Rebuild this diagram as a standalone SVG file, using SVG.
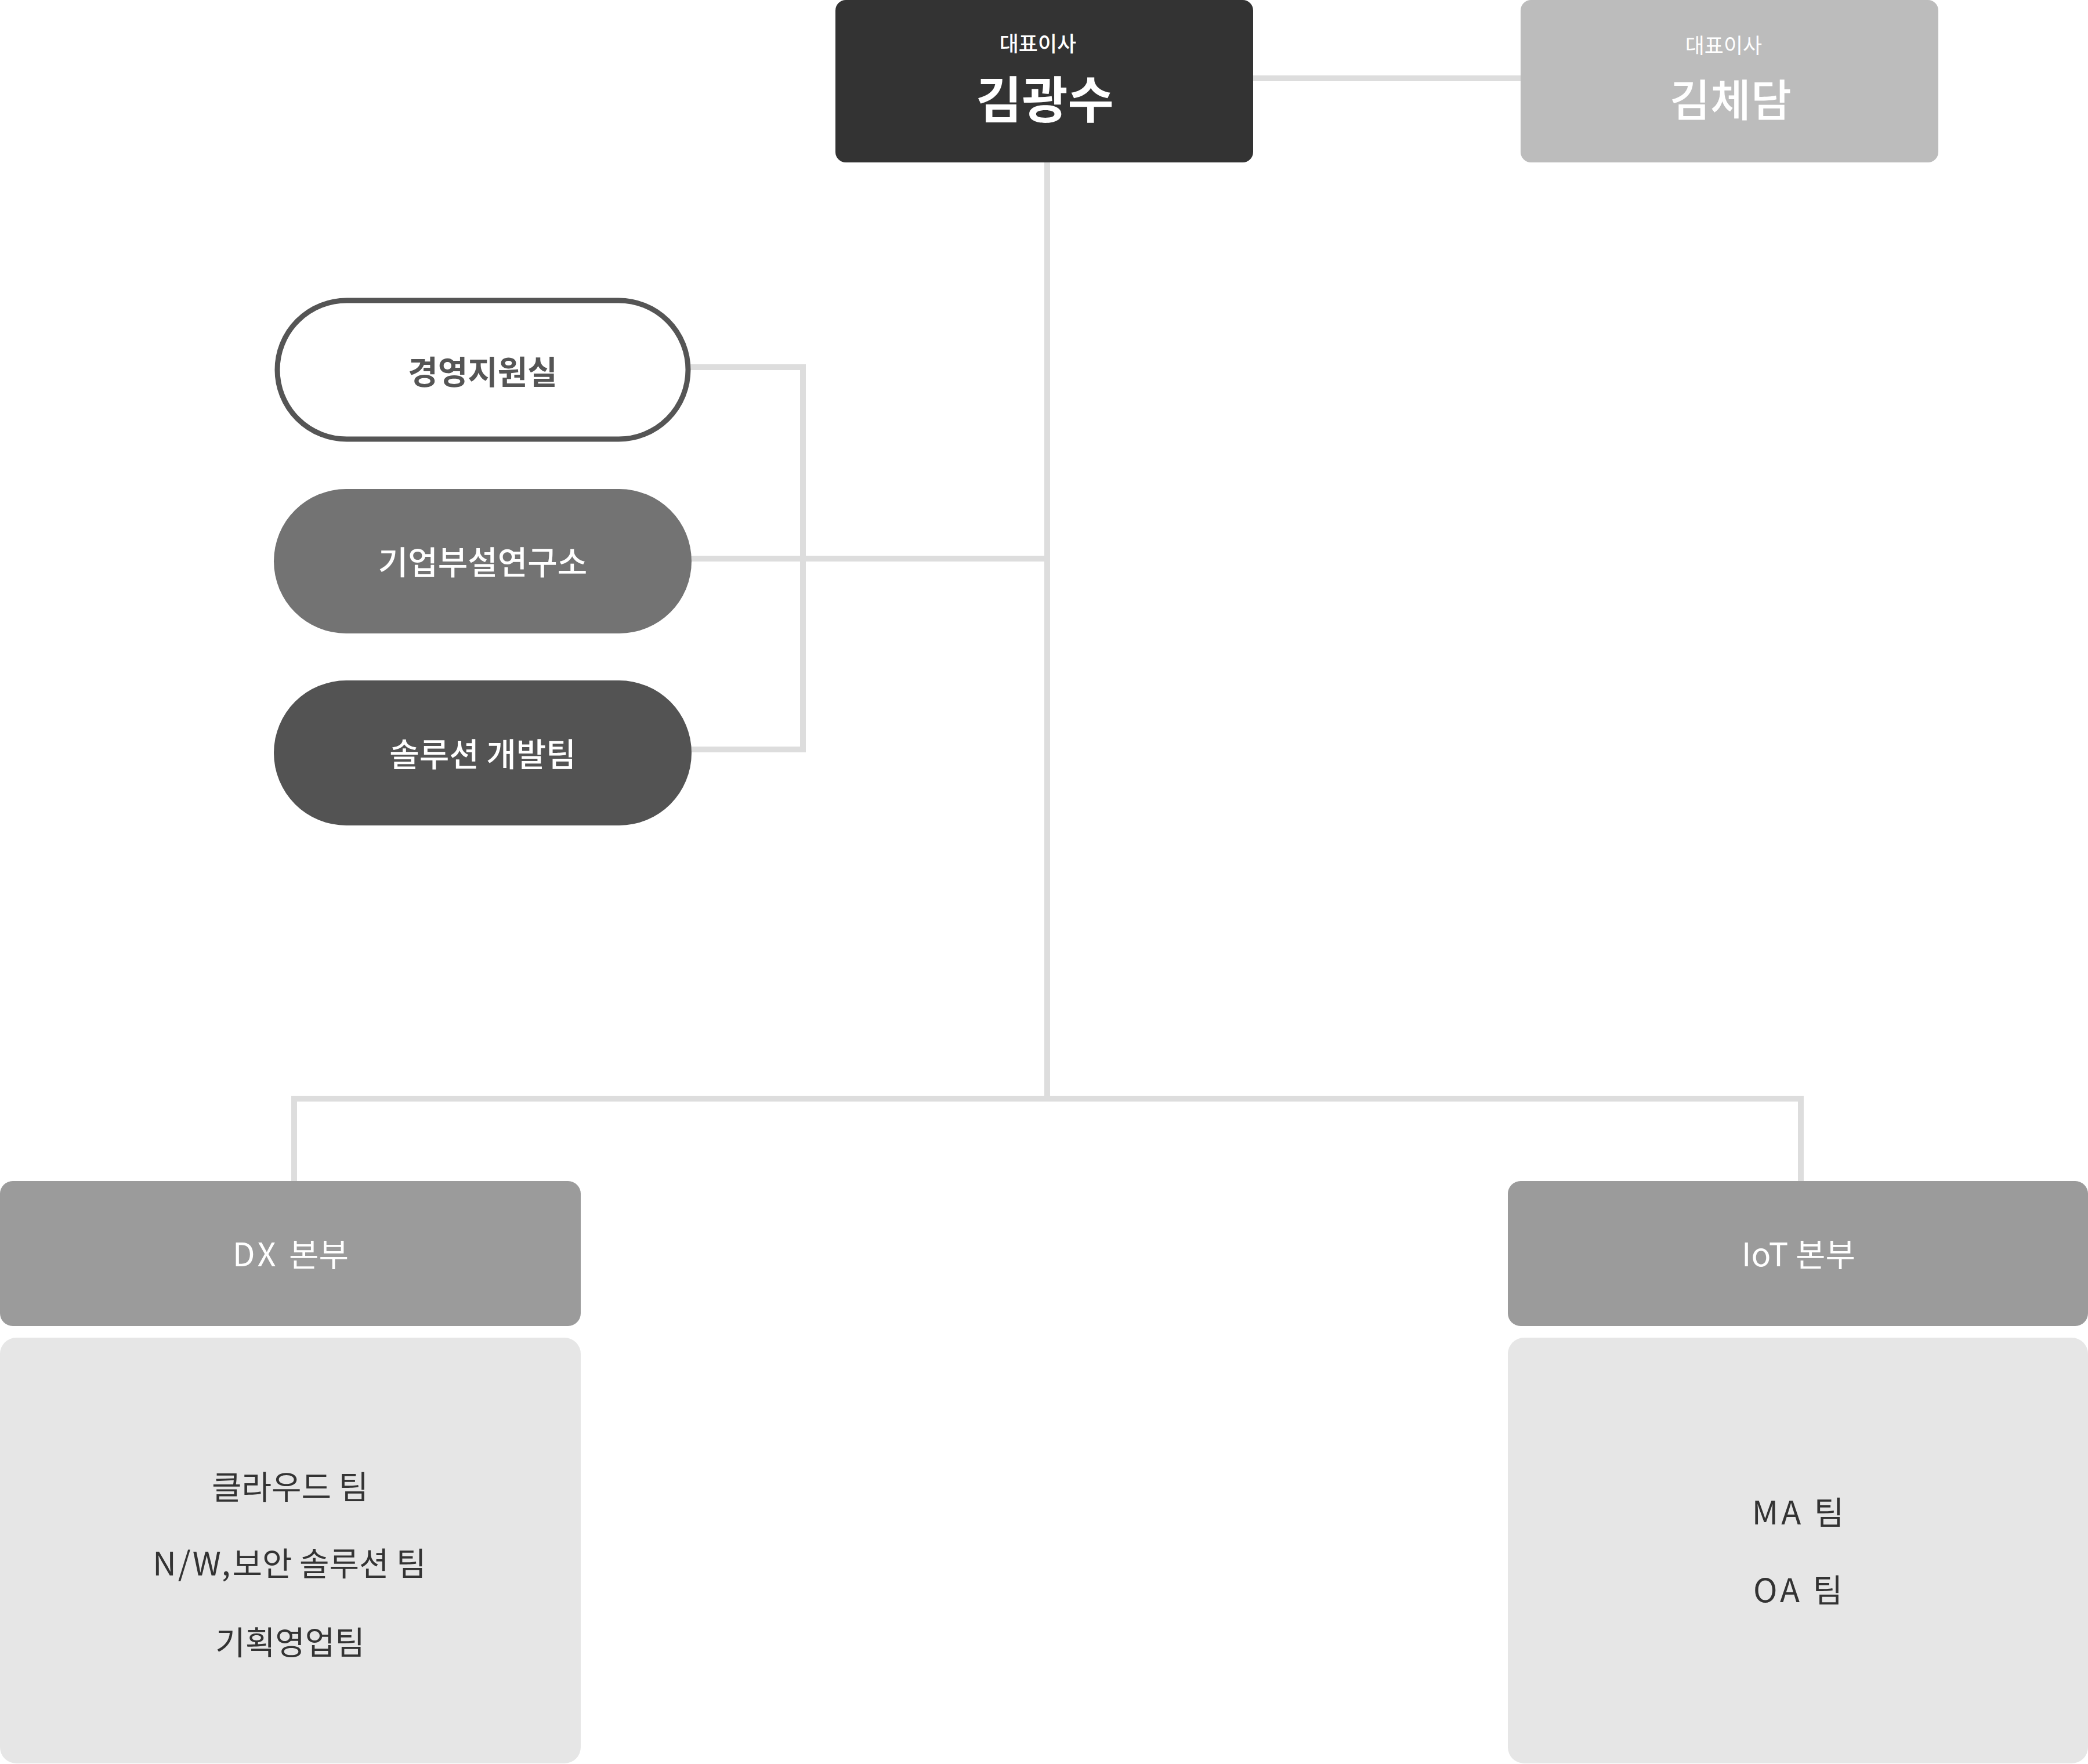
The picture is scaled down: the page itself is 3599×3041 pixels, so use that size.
<svg xmlns="http://www.w3.org/2000/svg" width="3599" height="3041" viewBox="0 0 3599 3041">
<style>
  text { font-family: "Noto Sans CJK KR", "Noto Sans", sans-serif; text-anchor: middle; }
  .conn { fill: none; stroke: #dddddd; stroke-width: 10; stroke-linejoin: miter; stroke-linecap: square; }
  .w { fill: #ffffff; }
  .title { font-size: 36px; font-weight: 500; }
  .name { font-size: 86px; font-weight: 700; }
  .pill { font-size: 56px; font-weight: 700; }
  .head { font-size: 56px; font-weight: 400; }
  .team { font-size: 56px; font-weight: 400; fill: #333333; }
  .lat { letter-spacing: 5px; }
</style>
<rect width="3599" height="3041" fill="#ffffff"/>
<g id="connectors">
  <path class="conn" d="M2160 135 H2621"/>
  <path class="conn" d="M1805 280 V1894"/>
  <path class="conn" d="M507 2036 V1894 H3104 V2036"/>
  <path class="conn" d="M1190 633 H1384 V1292 H1190"/>
  <path class="conn" d="M1190 963 H1805"/>
</g>
<g id="ceo1">
  <rect x="1440" y="0" width="720" height="280" rx="18" fill="#333333"/>
  <text class="w title" x="1789" y="89">대표이사</text>
  <text class="w name" x="1801" y="204">김광수</text>
</g>
<g id="ceo2">
  <rect x="2621" y="0" width="720" height="280" rx="18" fill="#bcbcbc"/>
  <text class="w title" x="2971" y="92" style="font-weight:400">대표이사</text>
  <text class="w name" x="2983" y="201" style="font-size:76px;font-weight:500">김체담</text>
</g>
<g id="mgmt">
  <rect x="478" y="518" width="708" height="239" rx="119.5" fill="#ffffff" stroke="#555555" stroke-width="9"/>
  <text class="pill" x="832" y="662" fill="#555555">경영지원실</text>
</g>
<g id="lab">
  <rect x="472" y="843" width="720" height="249" rx="124.5" fill="#737373"/>
  <text class="w pill" x="832" y="990" style="font-weight:500">기업부설연구소</text>
</g>
<g id="soldev">
  <rect x="472" y="1173" width="720" height="250" rx="125" fill="#535353"/>
  <text class="w pill" x="832" y="1321" style="font-weight:500">솔루션 개발팀</text>
</g>
<g id="dx">
  <rect x="0" y="2036" width="1001" height="250" rx="22" fill="#9b9b9b"/>
  <text class="w head" x="501" y="2183"><tspan class="lat">DX </tspan>본부</text>
  <rect x="0" y="2306" width="1001" height="734" rx="28" fill="#e6e6e6"/>
  <text class="team" x="500" y="2584">클라우드 팀</text>
  <text class="team" x="499" y="2716"><tspan style="letter-spacing:3px">N/W,</tspan>보안 솔루션 팀</text>
  <text class="team" x="500" y="2852">기획영업팀</text>
</g>
<g id="iot">
  <rect x="2599" y="2036" width="1000" height="250" rx="22" fill="#9b9b9b"/>
  <text class="w head" x="3100" y="2183">IoT 본부</text>
  <rect x="2599" y="2306" width="1000" height="734" rx="28" fill="#e6e6e6"/>
  <text class="team" x="3099" y="2628"><tspan class="lat">MA </tspan>팀</text>
  <text class="team" x="3099" y="2762"><tspan class="lat">OA </tspan>팀</text>
</g>
</svg>
